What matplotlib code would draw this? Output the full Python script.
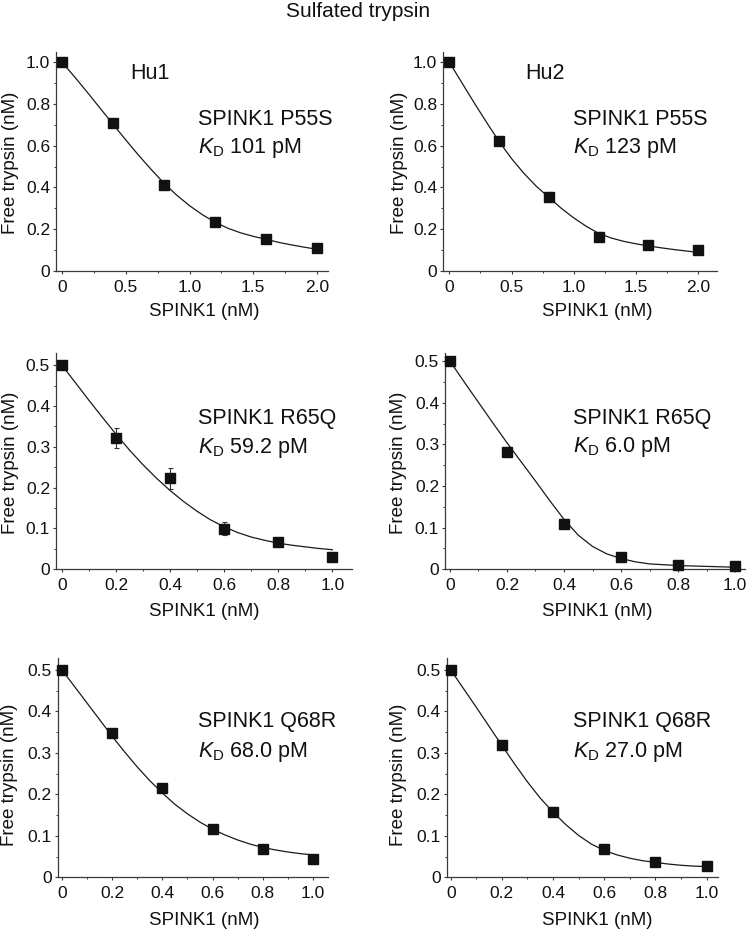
import matplotlib
matplotlib.use("Agg")
import matplotlib.pyplot as plt
from matplotlib.ticker import FixedLocator, MultipleLocator, FixedFormatter

plt.rcParams['font.family'] = ['Liberation Sans', 'DejaVu Sans']
plt.rcParams['mathtext.fontset'] = 'custom'
plt.rcParams['mathtext.rm'] = 'Liberation Sans'
plt.rcParams['mathtext.it'] = 'Liberation Sans:italic'

W, H = 747, 931

# ---------------- data ----------------
x_top = [0, 0.4, 0.8, 1.2, 1.6, 2.0]
x_low = [0, 0.2, 0.4, 0.6, 0.8, 1.0]

hu1_p55s_y = [1.0, 0.71, 0.41, 0.233, 0.155, 0.11]
hu1_p55s_err = [0, 0, 0, 0, 0, 0]
hu2_p55s_y = [1.0, 0.624, 0.356, 0.164, 0.123, 0.100]
hu2_p55s_err = [0, 0, 0.02, 0.022, 0, 0]
hu1_r65q_y = [0.5, 0.321, 0.223, 0.099, 0.066, 0.030]
hu1_r65q_err = [0, 0.025, 0.026, 0.016, 0.006, 0.004]
hu2_r65q_y = [0.5, 0.281, 0.110, 0.029, 0.011, 0.007]
hu2_r65q_err = [0, 0, 0, 0, 0, 0]
hu1_q68r_y = [0.5, 0.349, 0.216, 0.116, 0.068, 0.044]
hu1_q68r_err = [0, 0, 0, 0, 0, 0]
hu2_q68r_y = [0.5, 0.318, 0.158, 0.068, 0.037, 0.027]
hu2_q68r_err = [0, 0, 0, 0, 0, 0]

# fitted curves
fit_x_top = [0, 0.1, 0.2, 0.3, 0.4, 0.5, 0.6, 0.7, 0.8, 0.9, 1.0,
             1.1, 1.2, 1.3, 1.4, 1.5, 1.6, 1.7, 1.8, 1.9, 2.0]
fit_x_low = [0, 0.05, 0.1, 0.15, 0.2, 0.25, 0.3, 0.35, 0.4, 0.45, 0.5,
             0.55, 0.6, 0.65, 0.7, 0.75, 0.8, 0.85, 0.9, 0.95, 1.0]
fit_hu1_p55s = [1.0, 0.929, 0.855, 0.779, 0.703, 0.628, 0.555, 0.486, 0.42, 0.363, 0.313,
                0.270, 0.234, 0.205, 0.183, 0.166, 0.152, 0.137, 0.125, 0.114, 0.104]
fit_hu2_p55s = [1.0, 0.902, 0.805, 0.711, 0.62, 0.538, 0.467, 0.405, 0.352, 0.300, 0.254,
                0.214, 0.180, 0.158, 0.142, 0.130, 0.120, 0.111, 0.103, 0.096, 0.089]
fit_hu1_r65q = [0.5, 0.457, 0.414, 0.372, 0.331, 0.292, 0.256, 0.223, 0.193, 0.166, 0.142,
                0.121, 0.104, 0.09, 0.079, 0.071, 0.064, 0.059, 0.055, 0.051, 0.048]
fit_hu2_r65q = [0.5, 0.45, 0.401, 0.352, 0.304, 0.258, 0.212, 0.165, 0.12, 0.082, 0.055,
                0.037, 0.026, 0.018, 0.013, 0.011, 0.009, 0.008, 0.007, 0.006, 0.005]
fit_hu1_q68r = [0.5, 0.46, 0.42, 0.38, 0.34, 0.302, 0.266, 0.233, 0.203, 0.176, 0.153,
                0.133, 0.116, 0.102, 0.09, 0.08, 0.072, 0.066, 0.061, 0.057, 0.054]
fit_hu2_q68r = [0.5, 0.455, 0.41, 0.364, 0.318, 0.273, 0.23, 0.191, 0.157, 0.127, 0.101,
                0.080, 0.065, 0.054, 0.046, 0.040, 0.036, 0.032, 0.029, 0.027, 0.026]

title_text = "Sulfated trypsin"
xlabel_text = "SPINK1 (nM)"
ylabel_text = "Free trypsin (nM)"
panel_names = ["Hu1", "Hu2"]
variant_texts = ["SPINK1 P55S", "SPINK1 P55S", "SPINK1 R65Q", "SPINK1 R65Q",
                 "SPINK1 Q68R", "SPINK1 Q68R"]
kd_texts = ["101 pM", "123 pM", "59.2 pM", "6.0 pM", "68.0 pM", "27.0 pM"]

xt_top = [0, 0.5, 1.0, 1.5, 2.0]
xt_top_lab = ["0", "0.5", "1.0", "1.5", "2.0"]
xt_low = [0, 0.2, 0.4, 0.6, 0.8, 1.0]
xt_low_lab = ["0", "0.2", "0.4", "0.6", "0.8", "1.0"]
yt_top = [0, 0.2, 0.4, 0.6, 0.8, 1.0]
yt_top_lab = ["0", "0.2", "0.4", "0.6", "0.8", "1.0"]
yt_low = [0, 0.1, 0.2, 0.3, 0.4, 0.5]
yt_low_lab = ["0", "0.1", "0.2", "0.3", "0.4", "0.5"]

# ---------------- layout (pixels) ----------------
panels = [
    dict(box=(56, 328, 52, 271), xlim=(-0.047, 2.086), ylim=(0, 1.049),
         x=x_top, y=hu1_p55s_y, e=hu1_p55s_err, fx=fit_x_top, fy=fit_hu1_p55s,
         xt=(xt_top, xt_top_lab, 0.25), yt=(yt_top, yt_top_lab, 0.1),
         ylab=(19, 162.5), xlab=(204, 316), name=(130, 79), var=(198, 125), kd=(198, 153)),
    dict(box=(443.3, 716.7, 52, 271), xlim=(-0.048, 2.148), ylim=(0, 1.048),
         x=x_top, y=hu2_p55s_y, e=hu2_p55s_err, fx=fit_x_top, fy=fit_hu2_p55s,
         xt=(xt_top, xt_top_lab, 0.25), yt=(yt_top, yt_top_lab, 0.1),
         ylab=(408, 162.5), xlab=(597.5, 316), name=(525, 79), var=(573, 125), kd=(573, 153)),
    dict(box=(56, 351.7, 353.3, 569.3), xlim=(-0.0217, 1.0714), ylim=(0, 0.529),
         x=x_low, y=hu1_r65q_y, e=hu1_r65q_err, fx=fit_x_low, fy=fit_hu1_r65q,
         xt=(xt_low, xt_low_lab, 0.1), yt=(yt_low, yt_low_lab, 0.05),
         ylab=(19, 462.5), xlab=(204, 616), name=None, var=(198, 424), kd=(198, 453)),
    dict(box=(445, 745, 353.3, 569.3), xlim=(-0.0175, 1.035), ylim=(0, 0.519),
         x=x_low, y=hu2_r65q_y, e=hu2_r65q_err, fx=fit_x_low, fy=fit_hu2_r65q,
         xt=(xt_low, xt_low_lab, 0.1), yt=(yt_low, yt_low_lab, 0.05),
         ylab=(407, 462.5), xlab=(597.5, 616), name=None, var=(573, 424), kd=(573, 452)),
    dict(box=(57.7, 328, 658.3, 877.3), xlim=(-0.017, 1.06), ylim=(0, 0.528),
         x=x_low, y=hu1_q68r_y, e=hu1_q68r_err, fx=fit_x_low, fy=fit_hu1_q68r,
         xt=(xt_low, xt_low_lab, 0.1), yt=(yt_low, yt_low_lab, 0.05),
         ylab=(18, 775), xlab=(204, 925), name=None, var=(198, 727), kd=(198, 757)),
    dict(box=(446.7, 718.3, 658.3, 877.3), xlim=(-0.0156, 1.046), ylim=(0, 0.528),
         x=x_low, y=hu2_q68r_y, e=hu2_q68r_err, fx=fit_x_low, fy=fit_hu2_q68r,
         xt=(xt_low, xt_low_lab, 0.1), yt=(yt_low, yt_low_lab, 0.05),
         ylab=(407, 775), xlab=(597.5, 925), name=None, var=(573, 727), kd=(573, 757)),
]

fig = plt.figure(figsize=(W / 100, H / 100), dpi=100)
fig.patch.set_facecolor("white")

TICK_FS = 12.5
LABEL_FS = 13.5
ANN_FS = 15.5
spine_col = "#3a3a3a"
mark_col = "#111111"
text_col = "#111111"

fig.text(358 / W, 1 - 17 / H, title_text, ha="center", va="baseline",
         fontsize=15, color=text_col)

for i, p in enumerate(panels):
    l, r, t, b = p["box"]
    ax = fig.add_axes([l / W, 1 - b / H, (r - l) / W, (b - t) / H])
    ax.set_xlim(*p["xlim"])
    ax.set_ylim(*p["ylim"])
    for s in ("top", "right"):
        ax.spines[s].set_visible(False)
    for s in ("left", "bottom"):
        ax.spines[s].set_color(spine_col)
        ax.spines[s].set_linewidth(0.9)

    xt, xtl, xminor = p["xt"]
    yt, ytl, yminor = p["yt"]
    ax.xaxis.set_major_locator(FixedLocator(xt))
    ax.xaxis.set_major_formatter(FixedFormatter(xtl))
    ax.xaxis.set_minor_locator(MultipleLocator(xminor))
    ax.yaxis.set_major_locator(FixedLocator(yt))
    ax.yaxis.set_major_formatter(FixedFormatter(ytl))
    ax.yaxis.set_minor_locator(MultipleLocator(yminor))
    ax.tick_params(which="major", direction="out", length=2.5, width=0.8,
                   color=spine_col, labelsize=TICK_FS, labelcolor=text_col)
    ax.tick_params(which="minor", direction="out", length=1.6, width=0.7, color=spine_col)
    ax.tick_params(axis="x", which="major", pad=4.0)
    ax.tick_params(axis="y", which="major", pad=1.8)

    ax.plot(p["fx"], p["fy"], color="#1a1a1a", lw=0.9, zorder=2, clip_on=False)
    ax.errorbar(p["x"], p["y"], yerr=p["e"], fmt="s", ms=7.5, color=mark_col,
                mec=mark_col, ecolor="#333333", elinewidth=0.8, capsize=1.8,
                capthick=0.8, zorder=3, clip_on=False)

    def to_ax(px, py, l=l, r=r, t=t, b=b):
        return (px - l) / (r - l), (b - py) / (b - t)

    ax.set_xlabel(xlabel_text, fontsize=LABEL_FS, va="baseline", color=text_col)
    ax.xaxis.set_label_coords(*to_ax(*p["xlab"]))
    ax.set_ylabel(ylabel_text, fontsize=LABEL_FS, color=text_col)
    ax.yaxis.set_label_coords(*to_ax(*p["ylab"]))

    if p["name"] is not None:
        nx, ny = p["name"]
        fig.text(nx / W, 1 - ny / H, panel_names[i], fontsize=ANN_FS,
                 ha="left", va="baseline", color=text_col)
    vx, vy = p["var"]
    fig.text(vx / W, 1 - vy / H, variant_texts[i], fontsize=ANN_FS,
             ha="left", va="baseline", color=text_col)
    kx, ky = p["kd"]
    fig.text(kx / W, 1 - ky / H, r"$K_{\mathrm{D}}$ " + kd_texts[i], fontsize=ANN_FS,
             ha="left", va="baseline", color=text_col)

fig.savefig("out.png", dpi=100, facecolor="white")
